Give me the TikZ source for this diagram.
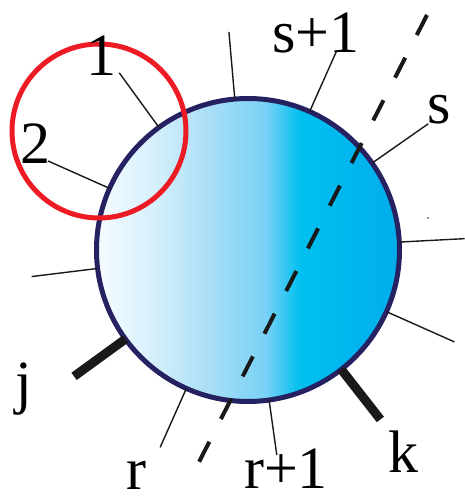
\documentclass[tikz,border=0pt]{standalone}
\usepackage{fontspec}
\setmainfont{Liberation Serif}
\definecolor{blobleft}{HTML}{F6FCFF}
\definecolor{blobpale}{HTML}{D2EEFB}
\definecolor{bloblight}{HTML}{A9DEF6}
\definecolor{blobsky}{HTML}{78D1F5}
\definecolor{blobmid}{HTML}{00C0F0}
\definecolor{blobright}{HTML}{00ACEC}
\definecolor{rimnavy}{HTML}{262262}
\definecolor{ringred}{HTML}{ED1C24}
\pgfdeclarehorizontalshading{blobfill}{100bp}{color(0bp)=(blobleft); color(25bp)=(blobleft); color(35.5bp)=(blobpale); color(43.5bp)=(bloblight); color(53bp)=(blobsky); color(58.5bp)=(blobmid); color(75bp)=(blobright); color(100bp)=(blobright)}

\begin{document}
\begin{tikzpicture}[
    x=1pt, y=1pt,
    blob/.style={circle, draw=rimnavy, line width=5pt, shading=blobfill, minimum size=303pt, inner sep=0pt, outer sep=0pt},
    ring/.style={circle, draw=ringred, line width=5pt, minimum size=174pt, inner sep=0pt},
    leg/.style={line width=1.4pt, black!90},
    hardleg/.style={line width=9pt, black!90},
    cut/.style={line width=4pt, black!90, dash pattern=on 22.5pt off 25.4pt},
    lbl/.style={font=\fontsize{60}{60}\selectfont, anchor=base, inner sep=0pt}
]
\useasboundingbox (-248,-249) rectangle (217,250);

\node (blob) [blob] at (0,0) {};

% thin legs: angle/length
\foreach \ang/\len [count=\i] in {126/219, 156/219, 95/219, 66/218, 35/220, 3/217, -24/226, -82/207, -114/216, 187/218}
{
    \coordinate (e\i) at (\ang:\len);
    \draw [leg] (blob.\ang) -- (e\i);
}

% thick legs
\coordinate (ej) at (-144:215);
\coordinate (ek) at (-52:215);
\draw [hardleg] (blob.-144) -- (ej);
\draw [hardleg] (blob.-52) -- (ek);

\coordinate (cuttop) at (179,235);
\coordinate (cutbot) at (-49,-212);
\draw [cut] (cuttop) -- (cutbot);

\node (ring) [ring] at (-149,119) {};

\fill [black!55] (180,32) circle (1.2pt);

\node (one) [lbl] at (-146,175) {1};
\node (two) [lbl] at (-212,87) {2};
\node (splus) [lbl] at (68,198) {s+1};
\node (s) [lbl] at (191,127) {s};
\node (j) [lbl] at (-224,-152) {j};
\node (r) [lbl] at (-112,-239) {r};
\node (rplus) [lbl] at (38,-238) {r+1};
\node (k) [lbl] at (156,-222) {k};

\end{tikzpicture}
\end{document}
